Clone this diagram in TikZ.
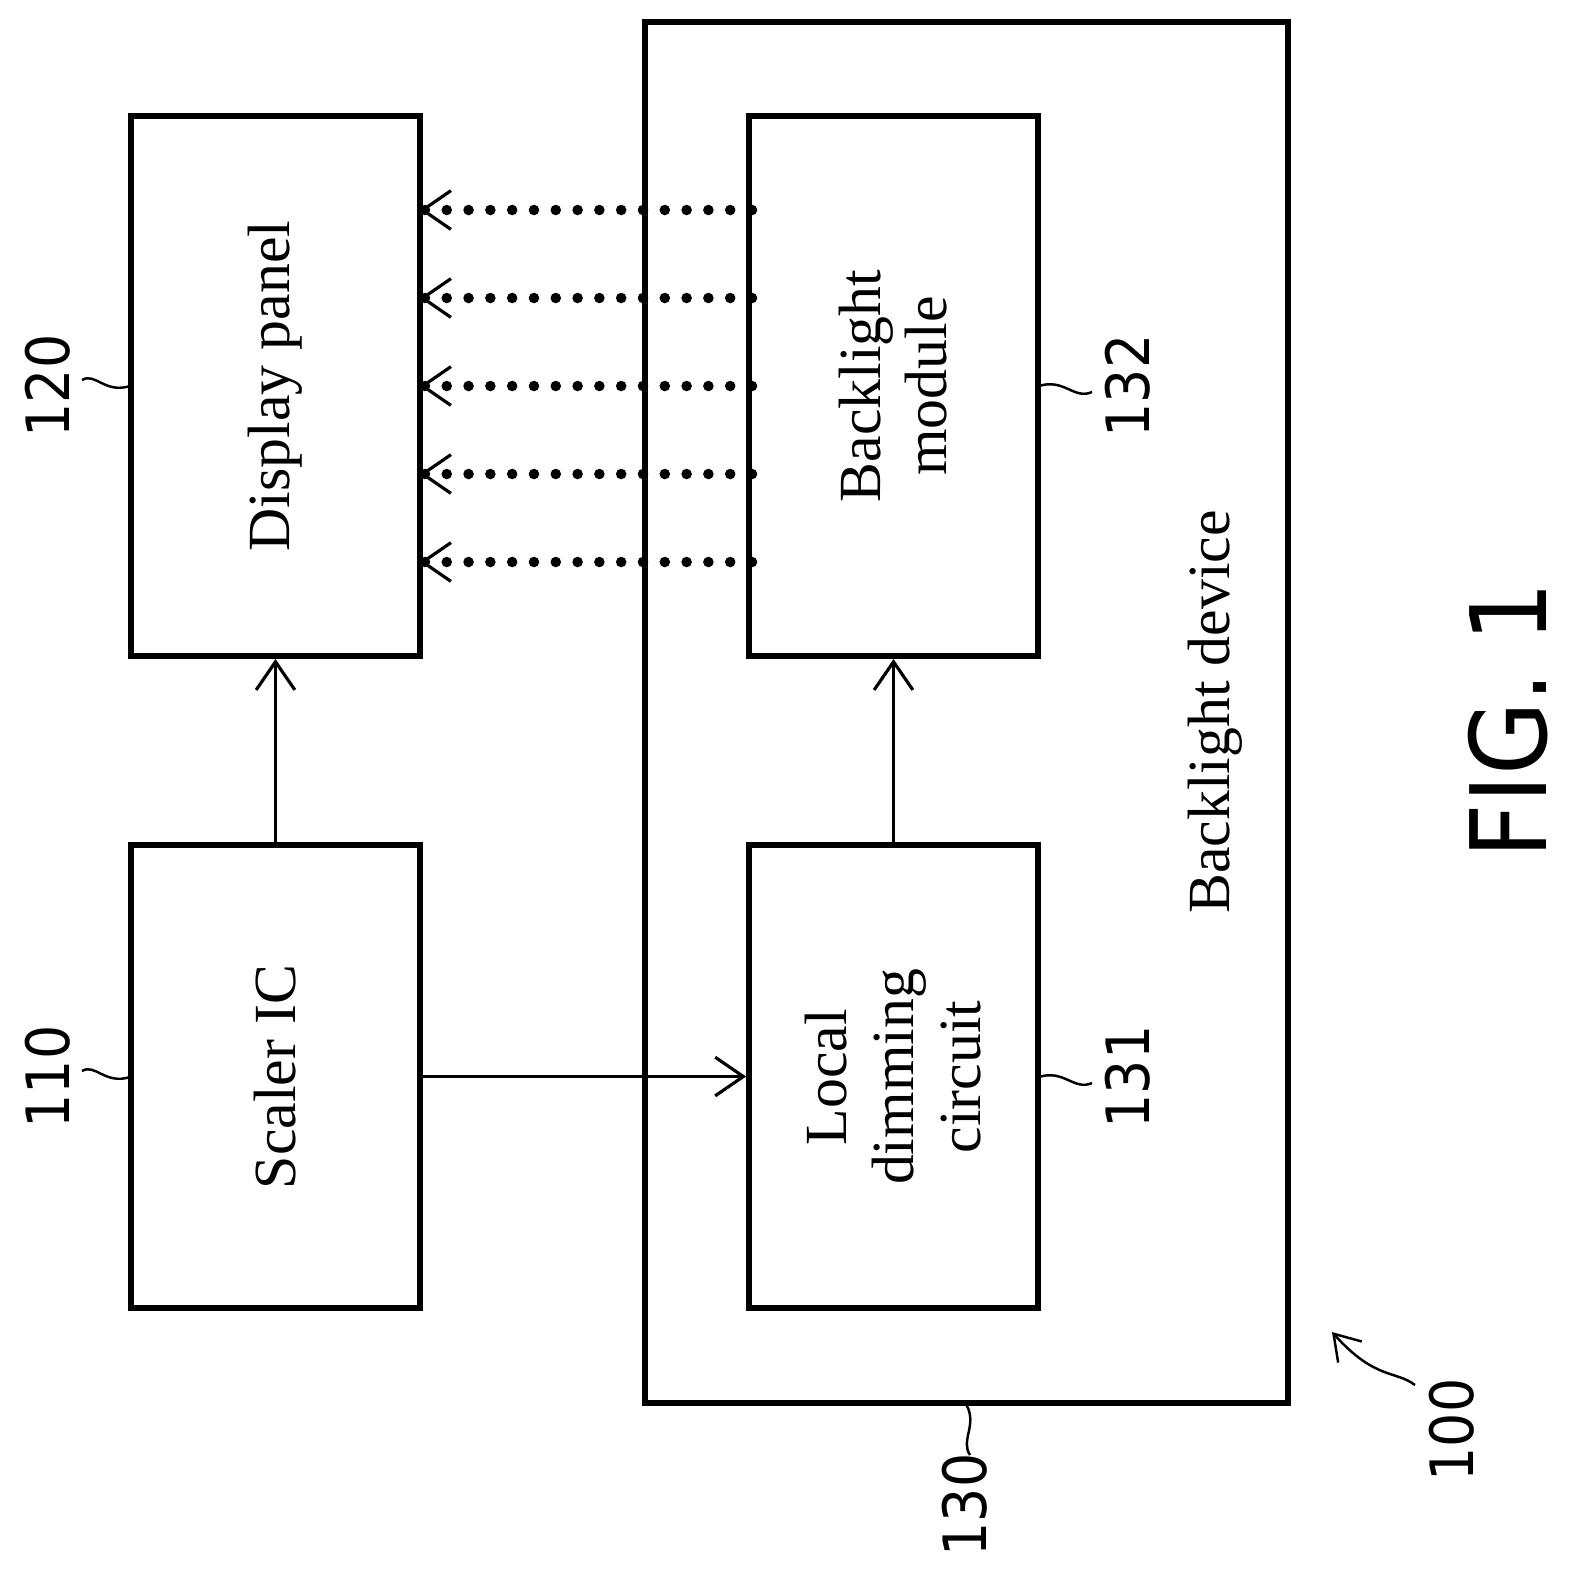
\documentclass[tikz,border=0pt]{standalone}
\usepackage{fontspec}
\setmainfont{Liberation Serif}
\newfontfamily\numfont{DejaVu Sans Condensed}
\usetikzlibrary{arrows.meta,decorations.pathmorphing}
\begin{document}
\begin{tikzpicture}[x=0.01cm,y=-0.01cm,
  box/.style={draw,line width=1.6pt,inner sep=0pt},
  lbl/.style={rotate=90,font=\fontsize{17}{19}\selectfont,align=center},
  num/.style={rotate=90,font=\numfont\fontsize{17}{19}\selectfont},
  arr/.style={-{Straight Barb[length=8pt,width=11pt]},line width=0.9pt},
  dots/.style={line width=3pt,dash pattern=on 0pt off 6.2pt,line cap=round,-{Straight Barb[length=8pt,width=11pt,line width=0.9pt]}},
  wav/.style={line width=0.7pt}]
\useasboundingbox (0,0) rectangle (1573,1572);
\draw[box] (645,22) rectangle (1288,1403) coordinate (bdc);
\node[box,minimum width=2.89cm,minimum height=5.4cm] (dp) at (275.5,386) {};
\node[box,minimum width=2.89cm,minimum height=4.63cm] (sc) at (275.5,1076.5) {};
\node[box,minimum width=2.89cm,minimum height=5.4cm] (bm) at (893.5,386) {};
\node[box,minimum width=2.89cm,minimum height=4.63cm] (ld) at (893.5,1076.5) {};
\node[lbl] at (275,386) {Display panel};
\node[lbl] at (275,1077) {Scaler IC};
\node[lbl] at (893,386) {Backlight\\module};
\node[lbl] at (893,1077) {Local\\dimming\\circuit};
\node[lbl] (bd) at (1215,712) {Backlight device};
\draw[arr] (sc.north) -- (dp.south);
\draw[arr] (ld.north) -- (bm.south);
\draw[arr] (sc.east) -- (ld.west);
\foreach \y in {210,298,386,474,562}{
  \coordinate (s\y) at (752,\y); \coordinate (e\y) at (420,\y);
  \draw[dots] (s\y) -- (e\y);}
\node[num] (n120) at (48,386) {120};
\node[num] (n110) at (48,1077) {110};
\node[num] (n132) at (1128,386) {132};
\node[num] (n131) at (1128,1077) {131};
\node[num] (n130) at (965,1505) {130};
\node[num] (n100) at (1452,1430) {100};
\draw[wav] (82,380) .. controls (95,372) and (105,394) .. (130,386);
\draw[wav] (82,1071) .. controls (95,1063) and (105,1085) .. (130,1077);
\draw[wav] (1039,386) .. controls (1064,378) and (1074,400) .. (1092,392);
\draw[wav] (1039,1077) .. controls (1064,1069) and (1074,1091) .. (1092,1083);
\draw[wav] (970,1455) .. controls (960,1440) and (978,1425) .. (966,1404);
\draw[wav,-{Straight Barb[length=7pt,width=9pt]}] (1415,1385) .. controls (1395,1370) and (1375,1380) .. (1332,1332);
\node[rotate=90,font=\numfont\fontsize{30}{32}\selectfont] (fig) at (1508,720) {FIG. 1};
\end{tikzpicture}
\end{document}
